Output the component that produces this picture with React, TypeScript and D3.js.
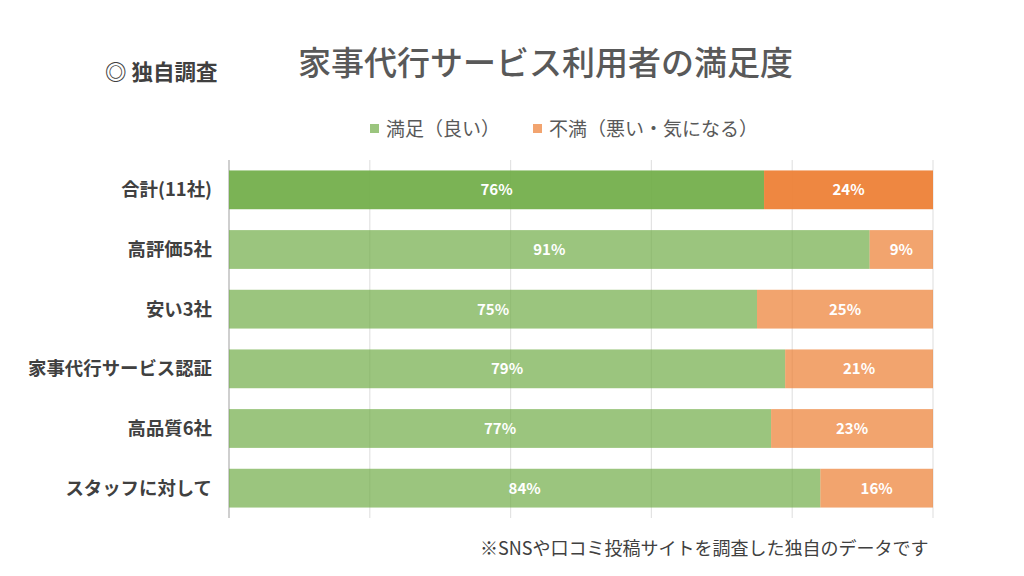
import React from "react";
import * as d3 from "d3";

const categories = ["合計(11社)", "高評価5社", "安い3社", "家事代行サービス認証", "高品質6社", "スタッフに対して"];
const satisfied = [76, 91, 75, 79, 77, 84];
const dissatisfied = [24, 9, 25, 21, 23, 16];
const seriesNames = ["満足（良い）", "不満（悪い・気になる）"];
const ticks = [0, 20, 40, 60, 80, 100];

const W = 1024;
const H = 576;
const FONT = "'Noto Sans CJK JP', 'Noto Sans', sans-serif";

export default function App() {
  const x = d3.scaleLinear().domain([0, 100]).range([229, 933]);
  const y = d3.scaleBand<string>().domain(categories).range([160, 518]).paddingInner(0.35).paddingOuter(0.175);
  const green = "#70AD47";
  const orange = "#ED7D31";

  return (
    <svg width={W} height={H} style={{ position: "absolute", left: 0, top: 0, background: "#fff" }}>
      <rect x={0} y={0} width={W} height={H} fill="#fff" />
      <text x={105} y={80} fontFamily={FONT} fontSize={21.5} fontWeight={700} fill="#404040">◎ 独自調査</text>
      <text x={298} y={75} fontFamily={FONT} fontSize={33} fontWeight={500} fill="#595959">家事代行サービス利用者の満足度</text>

      {/* legend */}
      <rect x={370} y={124} width={9} height={9} fill="#9BC57E" />
      <text x={386} y={135.5} fontFamily={FONT} fontSize={19} fill="#595959">{seriesNames[0]}</text>
      <rect x={533} y={124} width={9} height={9} fill="#F2A46F" />
      <text x={549} y={135.5} fontFamily={FONT} fontSize={19} fill="#595959">{seriesNames[1]}</text>

      {/* gridlines */}
      {ticks.slice(1).map((t) => (
        <line key={t} x1={x(t)} x2={x(t)} y1={160} y2={518} stroke="#E3E3E3" strokeWidth={1.2} />
      ))}
      <line x1={x(0)} x2={x(0)} y1={160} y2={518} stroke="#BFBFBF" strokeWidth={1.5} />

      {categories.map((c, i) => {
        const yy = y(c)!;
        const bh = y.bandwidth();
        const op = i === 0 ? 0.92 : 0.7;
        return (
          <g key={c}>
            <rect x={x(0)} y={yy} width={x(satisfied[i]) - x(0)} height={bh} fill={green} fillOpacity={op} />
            <rect x={x(satisfied[i])} y={yy} width={x(satisfied[i] + dissatisfied[i]) - x(satisfied[i])} height={bh} fill={orange} fillOpacity={op} />
            <text x={(x(0) + x(satisfied[i])) / 2} y={yy + bh / 2} dy="0.36em" textAnchor="middle" fontFamily={FONT} fontSize={15} fontWeight={700} fill="#fff">{satisfied[i]}%</text>
            <text x={(x(satisfied[i]) + x(100)) / 2} y={yy + bh / 2} dy="0.36em" textAnchor="middle" fontFamily={FONT} fontSize={15} fontWeight={700} fill="#fff">{dissatisfied[i]}%</text>
            <text x={212} y={yy + bh / 2} dy="0.36em" textAnchor="end" fontFamily={FONT} fontSize={18.4} fontWeight={700} fill="#404040">{c}</text>
          </g>
        );
      })}

      <text x={480} y={555} fontFamily={FONT} fontSize={18} fill="#404040">※SNSや口コミ投稿サイトを調査した独自のデータです</text>
    </svg>
  );
}
